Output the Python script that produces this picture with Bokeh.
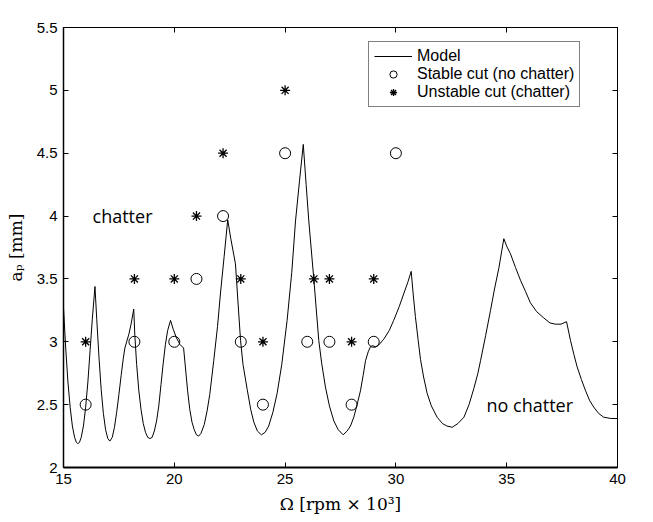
from bokeh.plotting import figure
from bokeh.models import (Range1d, FixedTicker, LinearAxis, Label, Legend, LegendItem,
                          CustomJSTickFormatter)
from bokeh.embed import file_html
from bokeh.resources import INLINE

# ---- data ----
model_omega = [15.0, 15.1, 15.2, 15.3, 15.4, 15.5, 15.58, 15.65, 15.72, 15.8, 15.9, 16.0, 16.1, 16.2, 16.3, 16.42,
               16.5, 16.6, 16.7, 16.8, 16.9, 17.0, 17.09, 17.2, 17.3, 17.4, 17.5, 17.6, 17.7, 17.77, 17.85, 17.95, 18.05, 18.17,
               18.22, 18.3, 18.4, 18.5, 18.6, 18.7, 18.8, 18.9, 19.0, 19.1, 19.2, 19.3, 19.4, 19.5, 19.6, 19.7, 19.83,
               19.95, 20.1, 20.25, 20.42, 20.5, 20.6, 20.7, 20.8, 20.9, 21.0, 21.1, 21.2, 21.35, 21.48, 21.6, 21.78, 21.95,
               22.08, 22.25, 22.41, 22.55, 22.76, 22.88, 22.99, 23.1, 23.29, 23.45, 23.59, 23.75, 23.93, 24.1, 24.26, 24.45,
               24.64, 24.85, 25.09, 25.3, 25.47, 25.65, 25.82, 25.95, 26.07, 26.3, 26.52, 26.65, 26.82, 27.0, 27.2, 27.4,
               27.62, 27.8, 27.95, 28.1, 28.25, 28.4, 28.52, 28.63, 28.75, 28.85, 28.95, 29.07, 29.2, 29.45, 29.7, 29.9,
               30.15, 30.35, 30.55, 30.69, 30.78, 30.88, 31.0, 31.11, 31.25, 31.41, 31.6, 31.86, 32.1, 32.3, 32.54, 32.8,
               33.07, 33.3, 33.52, 33.7, 33.82, 34.05, 34.27, 34.45, 34.65, 34.87, 35.0, 35.17, 35.4, 35.62, 35.85, 36.07,
               36.35, 36.67, 36.95, 37.2, 37.45, 37.7, 37.88, 38.03, 38.18, 38.37, 38.56, 38.75, 38.93, 39.15, 39.38, 39.7, 40.0]
model_ap = [3.27, 2.95, 2.68, 2.48, 2.33, 2.24, 2.20, 2.19, 2.20, 2.24, 2.33, 2.48, 2.68, 2.93, 3.18, 3.44,
            3.18, 2.88, 2.62, 2.43, 2.30, 2.23, 2.21, 2.24, 2.32, 2.44, 2.58, 2.73, 2.87, 2.95, 3.00, 3.06, 3.14, 3.26,
            3.05, 2.82, 2.61, 2.46, 2.35, 2.28, 2.24, 2.23, 2.24, 2.29, 2.37, 2.49, 2.66, 2.83, 2.98, 3.09, 3.17,
            3.10, 3.03, 2.98, 2.95, 2.80, 2.61, 2.46, 2.36, 2.30, 2.26, 2.25, 2.27, 2.34, 2.45, 2.58, 2.85, 3.12,
            3.38, 3.68, 3.97, 3.82, 3.62, 3.30, 3.01, 2.82, 2.62, 2.46, 2.36, 2.29, 2.26, 2.28, 2.33, 2.44,
            2.59, 2.82, 3.17, 3.55, 3.96, 4.28, 4.57, 4.25, 3.96, 3.49, 3.01, 2.83, 2.64, 2.49, 2.37, 2.30,
            2.26, 2.29, 2.33, 2.40, 2.50, 2.61, 2.73, 2.85, 2.92, 2.96, 2.97, 2.96, 2.97, 3.02, 3.09, 3.17,
            3.28, 3.38, 3.48, 3.56, 3.38, 3.20, 3.02, 2.86, 2.72, 2.59, 2.49, 2.40, 2.35, 2.33, 2.32, 2.35,
            2.40, 2.50, 2.63, 2.75, 2.85, 3.05, 3.25, 3.42, 3.59, 3.82, 3.76, 3.70, 3.59, 3.49, 3.40, 3.31,
            3.24, 3.19, 3.15, 3.14, 3.14, 3.16, 3.01, 2.90, 2.80, 2.70, 2.61, 2.53, 2.48, 2.43, 2.40, 2.39, 2.39]

stable_omega = [16.0, 18.2, 20.0, 21.0, 22.2, 23.0, 24.0, 25.0, 26.0, 27.0, 28.0, 29.0, 30.0]
stable_ap = [2.5, 3.0, 3.0, 3.5, 4.0, 3.0, 2.5, 4.5, 3.0, 3.0, 2.5, 3.0, 4.5]

unstable_omega = [16.0, 18.2, 20.0, 21.0, 22.2, 23.0, 24.0, 25.0, 26.3, 27.0, 28.0, 29.0]
unstable_ap = [3.0, 3.5, 3.5, 4.0, 4.5, 3.5, 3.0, 5.0, 3.5, 3.5, 3.0, 3.5]

x_ticks = [15, 20, 25, 30, 35, 40]
y_ticks = [2, 2.5, 3, 3.5, 4, 4.5, 5, 5.5]
y_tick_labels = ["2", "2.5", "3", "3.5", "4", "4.5", "5", "5.5"]

# ---- figure ----
p = figure(width=653, height=522, output_backend="svg", toolbar_location=None,
           x_range=Range1d(15, 40), y_range=Range1d(2, 5.5),
           min_border_left=63, min_border_right=36, min_border_top=27, min_border_bottom=55)
p.background_fill_color = "white"
p.border_fill_color = "white"
p.grid.visible = False
p.outline_line_color = "black"
p.outline_line_width = 1

tick_font = "Liberation Sans"

def style_axis(ax, ticks):
    ax.ticker = FixedTicker(ticks=ticks)
    ax.major_tick_in = 5
    ax.major_tick_out = 0
    ax.minor_tick_in = 0
    ax.minor_tick_out = 0
    ax.axis_line_color = "black"
    ax.major_tick_line_color = "black"
    ax.major_label_text_font = tick_font
    ax.major_label_text_font_size = "15px"
    ax.major_label_text_color = "black"

xa = p.xaxis[0]
style_axis(xa, x_ticks)
xa.axis_line_width = 2
xa.major_label_standoff = 6
xa.axis_label = "Ω [rpm × 10³]"
xa.axis_label_text_font = "DejaVu Serif"
xa.axis_label_text_font_style = "normal"
xa.axis_label_text_font_size = "17px"
xa.axis_label_text_color = "black"
xa.axis_label_standoff = 7

ya = p.yaxis[0]
style_axis(ya, y_ticks)
ya.axis_line_width = 1.5
ya.major_label_standoff = 6
ya.major_label_overrides = {t: s for t, s in zip(y_ticks, y_tick_labels)}
ya.axis_label = "aₚ [mm]"
ya.axis_label_text_font = "DejaVu Serif"
ya.axis_label_text_font_style = "normal"
ya.axis_label_text_font_size = "17px"
ya.axis_label_text_color = "black"
ya.axis_label_standoff = 8

top = LinearAxis(formatter=CustomJSTickFormatter(code="return ''"))
style_axis(top, x_ticks)
top.major_label_standoff = 0
p.add_layout(top, "above")
right = LinearAxis(formatter=CustomJSTickFormatter(code="return ''"))
style_axis(right, y_ticks)
right.major_label_standoff = 0
p.add_layout(right, "right")

# ---- glyphs ----
r_model = p.line(model_omega, model_ap, line_color="black", line_width=1)
r_stable = p.scatter(stable_omega, stable_ap, marker="circle", size=11,
                     fill_color=None, line_color="black", line_width=1)
r_unstable = p.scatter(unstable_omega, unstable_ap, marker="asterisk", size=10,
                       line_color="black", line_width=1.3)

p.add_layout(Label(x=16.31, y=4.0, text="chatter", text_font="Open Sans",
                   text_font_size="18px", text_baseline="middle", text_color="black"))
p.add_layout(Label(x=34.09, y=2.5, text="no chatter", text_font="Open Sans",
                   text_font_size="18px", text_baseline="middle", text_color="black"))

legend = Legend(items=[
    LegendItem(label="Model", renderers=[r_model]),
    LegendItem(label="Stable cut (no chatter)", renderers=[r_stable]),
    LegendItem(label="Unstable cut (chatter)", renderers=[r_unstable]),
], location=(305, 360))
legend.border_line_color = "black"
legend.border_line_width = 1
legend.background_fill_color = "white"
legend.background_fill_alpha = 1
legend.label_text_font = tick_font
legend.label_text_font_size = "16px"
legend.label_text_color = "black"
legend.padding = 5
legend.spacing = 0
legend.margin = 0
legend.glyph_width = 38
legend.glyph_height = 18
legend.label_height = 18
legend.label_standoff = 5
p.add_layout(legend, "center")

open("out.html", "w").write(file_html(p, INLINE))
